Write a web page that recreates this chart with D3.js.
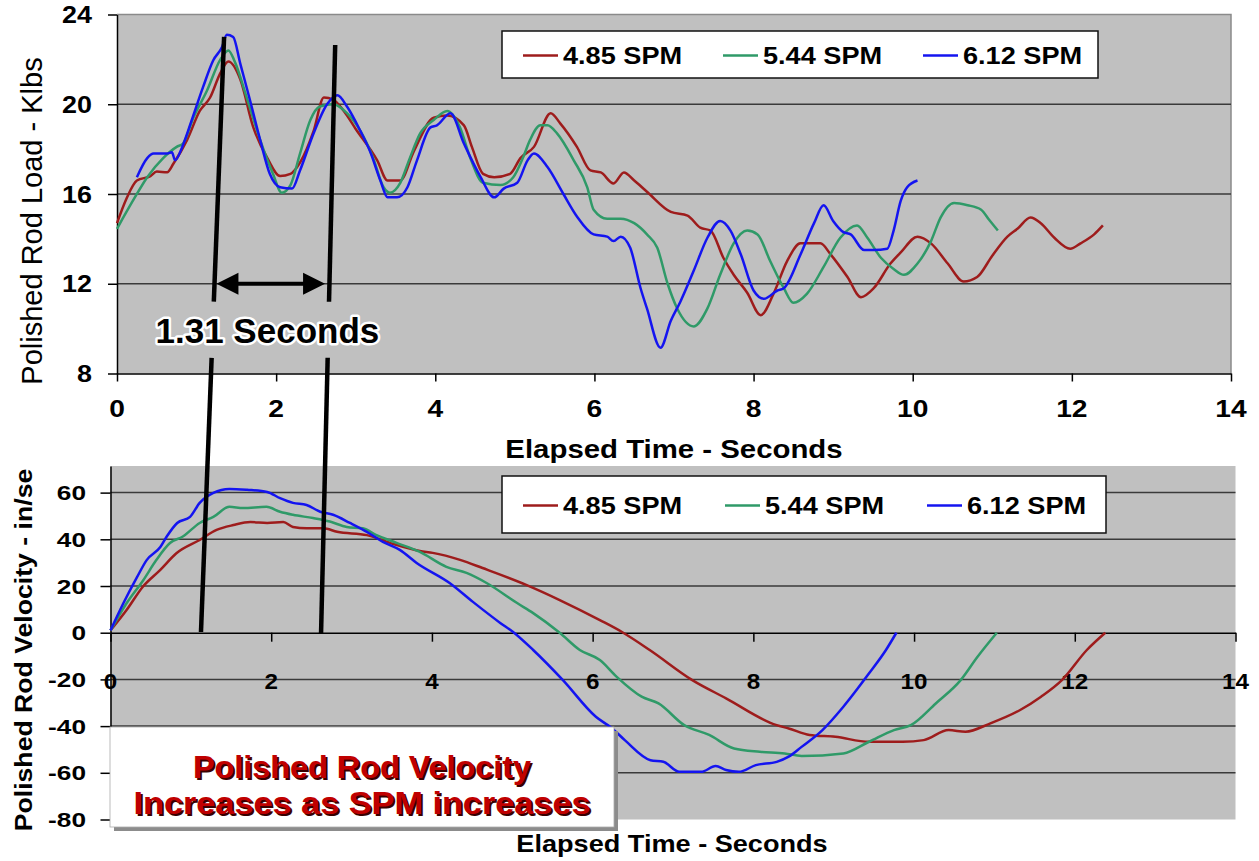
<!DOCTYPE html>
<html>
<head>
<meta charset="utf-8">
<script src="https://cdn.jsdelivr.net/npm/d3@7"></script>
<style>
  body { margin: 0; background: #fff; }
  svg { display: block; font-family: "Liberation Sans", Arial, sans-serif; }
</style>
</head>
<body>
<svg id="chart" width="1259" height="861"></svg>
<script>
//series names and colours, shared by both charts
const seriesNames = ['4.85 SPM', '5.44 SPM', '6.12 SPM'];
const seriesColors = ['#9e1c1c', '#2f9a68', '#1414f0'];

//tick values
const timeTicks = [0, 2, 4, 6, 8, 10, 12, 14];
const loadTicks = [8, 12, 16, 20, 24];
const velTicks = [-80, -60, -40, -20, 0, 20, 40, 60];

//polished rod load, [seconds, klbs]
const load485 = [[0,14.7],[0.12,15.8],[0.25,16.6],[0.42,16.8],[0.5,17.0],[0.63,16.97],[0.71,17.36],[0.88,18.4],
  [1.04,19.7],[1.17,20.3],[1.3,21.4],[1.4,21.9],[1.55,21.1],[1.71,19.0],[1.89,17.6],[2.05,16.8],[2.18,16.9],
  [2.3,17.4],[2.47,18.8],[2.6,20.3],[2.72,20.2],[2.85,19.7],[3.0,18.9],[3.27,17.5],[3.4,16.6],[3.56,16.6],
  [3.73,17.9],[3.98,19.4],[4.15,19.5],[4.36,19.06],[4.46,18.1],[4.6,16.9],[4.74,16.75],[4.94,16.9],[5.07,17.6],
  [5.24,18.1],[5.45,19.6],[5.57,19.15],[5.78,18.1],[5.95,17.05],[6.08,16.96],[6.24,16.47],[6.37,16.96],[6.5,16.6],
  [6.66,16.1],[6.96,15.2],[7.17,15.04],[7.33,14.5],[7.46,14.37],[7.62,13.16],[7.75,12.4],[7.92,11.6],[8.09,10.6],
  [8.25,11.55],[8.42,13.0],[8.59,13.8],[8.84,13.8],[8.97,13.3],[9.18,12.3],[9.35,11.4],[9.51,11.8],[9.72,12.9],
  [9.85,13.4],[10.06,14.1],[10.23,13.8],[10.44,12.9],[10.64,12.1],[10.81,12.3],[11.0,13.25],[11.19,14.1],
  [11.32,14.46],[11.48,14.95],[11.61,14.7],[11.78,14.05],[11.98,13.56],[12.11,13.8],[12.28,14.2],[12.39,14.6]];
const load544 = [[0,14.45],[0.2,15.7],[0.38,16.75],[0.58,17.6],[0.75,18.1],[0.83,18.25],[0.96,19.4],[1.13,20.6],
  [1.3,22.0],[1.4,22.4],[1.48,21.9],[1.63,20.3],[1.8,18.4],[1.96,16.9],[2.07,16.06],[2.18,16.4],[2.3,17.8],
  [2.43,19.3],[2.55,19.9],[2.72,20.0],[2.89,19.6],[3.06,18.8],[3.22,17.6],[3.35,16.3],[3.43,16.06],[3.56,16.5],
  [3.68,17.6],[3.81,18.7],[3.98,19.3],[4.15,19.7],[4.31,18.97],[4.44,17.6],[4.6,16.5],[4.82,16.4],[4.98,16.75],
  [5.1,17.6],[5.19,18.4],[5.32,19.06],[5.41,19.06],[5.53,18.7],[5.74,17.5],[5.91,16.3],[5.99,15.3],[6.16,14.9],
  [6.33,14.9],[6.5,14.7],[6.66,14.2],[6.79,13.6],[6.92,12.0],[7.04,10.9],[7.25,10.1],[7.42,10.9],[7.58,12.4],
  [7.75,13.8],[7.92,14.37],[8.05,14.2],[8.21,13.0],[8.38,11.8],[8.5,11.15],[8.67,11.55],[8.88,12.75],[9.09,14.05],
  [9.3,14.6],[9.43,14.05],[9.6,13.16],[9.76,12.66],[9.89,12.4],[10.06,12.9],[10.23,13.9],[10.35,14.95],
  [10.52,15.6],[10.69,15.5],[10.86,15.3],[10.96,14.85],[11.07,14.37]];
const load612 = [[0.25,16.75],[0.38,17.6],[0.46,17.8],[0.63,17.8],[0.69,17.86],[0.73,17.5],[0.82,18.1],[0.94,19.3],
  [1.08,20.75],[1.21,21.96],[1.32,22.55],[1.38,23.1],[1.46,23.0],[1.55,21.8],[1.67,20.2],[1.8,18.4],[1.92,16.9],
  [2.05,16.3],[2.2,16.24],[2.3,17.05],[2.47,18.7],[2.64,20.0],[2.77,20.4],[2.89,19.9],[3.06,18.8],[3.18,17.9],
  [3.31,16.6],[3.4,15.85],[3.52,15.85],[3.65,16.3],[3.77,17.5],[3.94,18.97],[4.02,19.06],[4.19,19.6],[4.36,18.25],
  [4.57,16.75],[4.74,15.85],[4.86,16.24],[5.03,16.5],[5.16,17.5],[5.24,17.8],[5.41,17.2],[5.61,16.0],[5.78,15.0],
  [5.99,14.2],[6.16,14.1],[6.24,13.9],[6.33,14.1],[6.45,13.6],[6.58,11.8],[6.66,10.9],[6.83,9.15],[6.96,10.35],
  [7.08,11.2],[7.25,12.6],[7.42,14.05],[7.58,14.8],[7.71,14.37],[7.84,13.3],[8.0,11.7],[8.13,11.33],[8.3,11.7],
  [8.38,11.8],[8.59,13.3],[8.76,14.7],[8.88,15.5],[9.0,14.8],[9.13,14.3],[9.22,14.2],[9.39,13.5],[9.51,13.5],
  [9.68,13.56],[9.76,14.37],[9.85,15.7],[9.93,16.3],[10.06,16.6]];

//polished rod velocity, [seconds, in/sec]
const vel485 = [[0,1],[0.2,9.7],[0.4,19.6],[0.62,26.9],[0.82,34],[1.11,39.7],[1.32,44],[1.53,46.1],[1.74,47.4],
  [1.95,47],[2.15,47.4],[2.27,45.3],[2.44,44.7],[2.65,44.7],[2.82,43.2],[3.19,41.8],[3.52,38.0],[3.85,35.0],
  [4.01,34.2],[4.35,31.2],[4.63,27.7],[5.18,20.4],[5.59,14],[6.09,5.4],[6.38,0],[6.71,-7.4],[7.24,-20.3],
  [7.66,-28.1],[8.29,-39.6],[8.44,-41],[8.7,-43.8],[9.02,-44.6],[9.44,-46.7],[9.86,-46.7],[10.12,-46],
  [10.43,-41.7],[10.64,-42.4],[10.95,-38.8],[11.32,-33.1],[11.58,-27.4],[11.84,-20.3],[12.15,-7.4],[12.38,0]];
const vel544 = [[0,1],[0.2,12.6],[0.41,22.6],[0.57,31.1],[0.74,38.4],[0.9,41.2],[1.11,47],[1.28,49.6],[1.48,53.9],
  [1.65,53.4],[1.94,53.9],[2.11,51.8],[2.27,50.5],[2.52,49.1],[2.73,47.6],[2.94,45.3],[3.14,44.7],[3.31,41.8],
  [3.56,38.5],[3.85,34.6],[4.18,28.2],[4.43,25.6],[4.68,21.3],[5.06,12.7],[5.26,8.4],[5.59,0],[5.84,-7.4],
  [6.09,-11.7],[6.3,-18.9],[6.61,-27.4],[6.82,-30.3],[7.14,-39.6],[7.45,-43.8],[7.76,-49.6],[8.08,-51],
  [8.39,-51.7],[8.6,-52.8],[9.12,-51.7],[9.44,-46.7],[9.75,-41.7],[9.96,-39.6],[10.27,-30.3],[10.58,-20.3],
  [10.79,-10.3],[11.03,0]];
const vel612 = [[0,1],[0.16,12.6],[0.33,23.8],[0.45,31.1],[0.62,36.7],[0.7,41.2],[0.83,47],[0.99,49.6],[1.11,55.6],
  [1.28,59.9],[1.48,61.6],[1.7,61.2],[1.95,60.3],[2.11,57.6],[2.27,55.6],[2.44,54.7],[2.61,51.8],[2.77,50.5],
  [2.98,47],[3.19,43.2],[3.39,38.9],[3.6,35.5],[3.81,29.9],[4.22,21.3],[4.51,13.2],[4.85,4.2],[5.01,0.3],
  [5.26,-7.4],[5.63,-20.3],[6.04,-36],[6.24,-40.9],[6.4,-46],[6.72,-54.6],[6.88,-55.3],[7.08,-59.6],[7.35,-59.6],
  [7.53,-57.1],[7.66,-58.8],[7.82,-59.6],[8.03,-56.7],[8.29,-55.3],[8.44,-53.1],[8.6,-48.9],[8.86,-41.7],
  [9.12,-31.7],[9.44,-17.4],[9.65,-7.4],[9.78,0]];

//annotations
const periodLabel = '1.31 Seconds';
const noteLines = ['Polished Rod Velocity', 'Increases as SPM increases'];
//marker lines: top end in [time, load], bottom end in [time, velocity]
const markerTop = [[1.346, 23.0], [2.742, 22.64]];
const markerBottom = [[1.126, 0.3], [2.62, -0.56]];

const svg = d3.select('#chart');

//scales for the two charts
const xTop = d3.scaleLinear().domain([0, 14]).range([117, 1231]);
const yTop = d3.scaleLinear().domain([8, 24]).range([373.5, 14.5]);
const xBot = d3.scaleLinear().domain([0, 14]).range([110.5, 1235.5]);
const yBot = d3.scaleLinear().domain([-80, 71.4]).range([819.5, 466]);

//text helper: the original text is a bit stretched, so allow a horizontal scale
function txt(g, x, y, s, o) {
    o = o || {};
    return g.append('text')
        .attr('transform', 'translate(' + x + ',' + y + ') rotate(' + (o.rot || 0) + ') scale(' + (o.sx || 1) + ',1)')
        .attr('text-anchor', o.anchor || 'middle')
        .attr('font-size', o.size || 20)
        .attr('font-weight', o.weight || 'bold')
        .attr('fill', o.fill || '#000')
        .text(s);
}

function drawLegend(g, box, step) {
    g.append('rect')
     .attr('x', box.x).attr('y', box.y).attr('width', box.w).attr('height', box.h)
     .attr('fill', '#fff').attr('stroke', '#111').attr('stroke-width', 1.5);
    seriesNames.forEach(function(name, i) {
        var x0 = box.x + 21 + i * step;
        var yc = box.y + box.h / 2 + 1;
        g.append('line')
         .attr('x1', x0).attr('x2', x0 + 35).attr('y1', yc).attr('y2', yc)
         .attr('stroke', seriesColors[i]).attr('stroke-width', 2.5);
        txt(g, x0 + 40, yc + 8, name, {anchor: 'start', size: 23, sx: 1.18});
    });
}

// ---------- top chart: polished rod load ----------
var gTop = svg.append('g');
gTop.append('rect')
   .attr('x', xTop(0)).attr('y', yTop(24))
   .attr('width', xTop(14) - xTop(0)).attr('height', yTop(8) - yTop(24))
   .attr('fill', '#c0c0c0');
//border on top and right
gTop.append('path')
   .attr('d', 'M' + xTop(0) + ',' + yTop(24) + 'H' + xTop(14) + 'V' + yTop(8))
   .attr('fill', 'none').attr('stroke', '#8a8a8a').attr('stroke-width', 1.5);

gTop.selectAll('.gridTop')
   .data([12, 16, 20])
   .enter()
   .append('line')
     .attr('x1', xTop(0)).attr('x2', xTop(14))
     .attr('y1', function(d) { return yTop(d); })
     .attr('y2', function(d) { return yTop(d); })
     .attr('stroke', '#3a3a3a').attr('stroke-width', 1.5);

gTop.append('g')
   .attr('transform', 'translate(' + xTop(0) + ',0)')
   .call(d3.axisLeft(yTop).tickValues(loadTicks).tickSize(9).tickSizeOuter(0).tickFormat(''))
   .call(function(a) { a.selectAll('line,path').attr('stroke', '#000').attr('stroke-width', 1.5); });
gTop.append('g')
   .attr('transform', 'translate(0,' + yTop(8) + ')')
   .call(d3.axisBottom(xTop).tickValues(timeTicks).tickSize(8).tickSizeOuter(0).tickFormat(''))
   .call(function(a) { a.selectAll('line,path').attr('stroke', '#000').attr('stroke-width', 1.5); });

loadTicks.forEach(function(v) {
    txt(gTop, 92, yTop(v) + 8.5, v, {anchor: 'end', size: 23, sx: 1.17});
});
timeTicks.forEach(function(t) {
    txt(gTop, xTop(t), 417, t, {size: 23.5, sx: 1.2});
});
txt(gTop, 674, 458, 'Elapsed Time - Seconds', {size: 25, sx: 1.175});
txt(gTop, 41.5, 221, 'Polished Rod Load - Klbs', {size: 29, weight: 'normal', rot: -90});

var lineTop = d3.line()
    .x(function(d) { return xTop(d[0]); })
    .y(function(d) { return yTop(d[1]); })
    .curve(d3.curveMonotoneX);

gTop.selectAll('.loadLine')
   .data([load485, load544, load612])
   .enter()
   .append('path')
     .attr('d', function(d) { return lineTop(d); })
     .attr('fill', 'none')
     .attr('stroke', function(d, i) { return seriesColors[i]; })
     .attr('stroke-width', 2.5)
     .attr('stroke-linejoin', 'round');

drawLegend(gTop, {x: 502, y: 31, w: 596, h: 47}, 200);

// ---------- bottom chart: polished rod velocity ----------
var gBot = svg.append('g');
gBot.append('rect')
   .attr('x', xBot(0)).attr('y', yBot(71.4))
   .attr('width', xBot(14) - xBot(0)).attr('height', yBot(-80) - yBot(71.4))
   .attr('fill', '#c0c0c0');

gBot.selectAll('.gridBot')
   .data([60, 40, 20, -20, -40, -60])
   .enter()
   .append('line')
     .attr('x1', xBot(0)).attr('x2', xBot(14))
     .attr('y1', function(d) { return yBot(d); })
     .attr('y2', function(d) { return yBot(d); })
     .attr('stroke', '#3a3a3a').attr('stroke-width', 1.5);

gBot.append('g')
   .attr('transform', 'translate(' + xBot(0) + ',0)')
   .call(d3.axisLeft(yBot).tickValues(velTicks).tickSize(10).tickSizeOuter(0).tickFormat(''))
   .call(function(a) { a.selectAll('line,path').attr('stroke', '#000').attr('stroke-width', 1.5); });
gBot.append('g')
   .attr('transform', 'translate(0,' + yBot(0) + ')')
   .call(d3.axisBottom(xBot).tickValues(timeTicks).tickSize(9).tickSizeOuter(0).tickFormat(''))
   .call(function(a) { a.selectAll('line,path').attr('stroke', '#000').attr('stroke-width', 1.5); });

velTicks.forEach(function(v) {
    txt(gBot, 86, yBot(v) + 7.5, v, {anchor: 'end', size: 21, sx: 1.25});
});
timeTicks.forEach(function(t) {
    txt(gBot, xBot(t), 689, t, {size: 22, sx: 1.1});
});
txt(gBot, 672, 852, 'Elapsed Time - Seconds', {size: 24, sx: 1.13});
txt(gBot, 32, 650, 'Polished Rod Velocity - in/se', {size: 24, sx: 1.11, rot: -90});

var lineBot = d3.line()
    .x(function(d) { return xBot(d[0]); })
    .y(function(d) { return yBot(d[1]); })
    .curve(d3.curveMonotoneX);

gBot.selectAll('.velLine')
   .data([vel485, vel544, vel612])
   .enter()
   .append('path')
     .attr('d', function(d) { return lineBot(d); })
     .attr('fill', 'none')
     .attr('stroke', function(d, i) { return seriesColors[i]; })
     .attr('stroke-width', 2.5)
     .attr('stroke-linejoin', 'round');

drawLegend(gBot, {x: 502, y: 476, w: 604, h: 57}, 202);

//note box in the lower left
var note = svg.append('g');
note.append('rect')
    .attr('x', 114).attr('y', 731).attr('width', 504).attr('height', 100)
    .attr('fill', '#8c8c8c');
note.append('rect')
    .attr('x', 110).attr('y', 727).attr('width', 504).attr('height', 100)
    .attr('fill', '#fff').attr('stroke', '#aaa').attr('stroke-width', 0.8);
[[778, 338], [814, 457]].forEach(function(p, i) {
    note.append('text')
        .attr('x', 364).attr('y', p[0] + 2)
        .attr('text-anchor', 'middle').attr('font-size', 32).attr('font-weight', 'bold')
        .attr('textLength', p[1]).attr('lengthAdjust', 'spacingAndGlyphs')
        .attr('fill', '#3a0000')
        .text(noteLines[i]);
    note.append('text')
        .attr('x', 362).attr('y', p[0])
        .attr('text-anchor', 'middle').attr('font-size', 32).attr('font-weight', 'bold')
        .attr('textLength', p[1]).attr('lengthAdjust', 'spacingAndGlyphs')
        .attr('fill', '#c00000')
        .text(noteLines[i]);
});

// ---------- period marker: two slanted lines and the double arrow ----------
var mark = svg.append('g');
var gapHi = yTop(11.2), gapLo = yTop(8.7);
markerTop.forEach(function(p, i) {
    var x1 = xTop(p[0]), y1 = yTop(p[1]);
    var x2 = xBot(markerBottom[i][0]), y2 = yBot(markerBottom[i][1]);
    var xAt = function(y) { return x1 + (x2 - x1) * (y - y1) / (y2 - y1); };
    [[y1, gapHi], [gapLo, y2]].forEach(function(s) {
        mark.append('line')
            .attr('x1', xAt(s[0])).attr('y1', s[0])
            .attr('x2', xAt(s[1])).attr('y2', s[1])
            .attr('stroke', '#000').attr('stroke-width', 4.5);
    });
});

var ay = yTop(12), ax1 = xTop(1.25), ax2 = xTop(2.615);
mark.append('line')
    .attr('x1', ax1 + 15).attr('x2', ax2 - 15).attr('y1', ay).attr('y2', ay)
    .attr('stroke', '#000').attr('stroke-width', 4);
mark.append('path')
    .attr('d', 'M' + ax1 + ',' + ay + 'l22,-11v22z')
    .attr('fill', '#000');
mark.append('path')
    .attr('d', 'M' + ax2 + ',' + ay + 'l-22,-11v22z')
    .attr('fill', '#000');

txt(mark, xTop(1.89), yTop(9.36), periodLabel, {size: 35})
    .attr('stroke', '#fff').attr('stroke-width', 5).attr('stroke-linejoin', 'round');
txt(mark, xTop(1.89), yTop(9.36), periodLabel, {size: 35});
</script>
</body>
</html>
